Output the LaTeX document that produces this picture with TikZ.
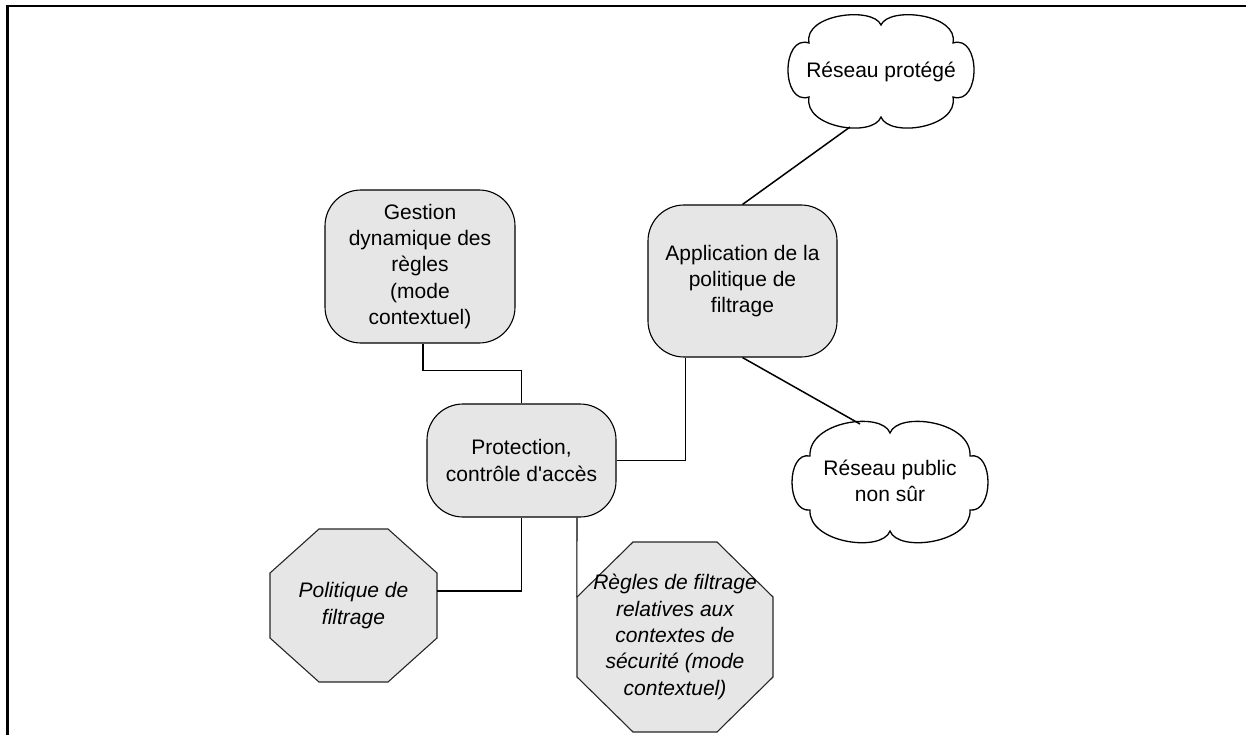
\documentclass[tikz,border=0pt]{standalone}
\usepackage{fontspec}
\setmainfont{Liberation Sans}[Ligatures=TeXOff]
\usetikzlibrary{calc,backgrounds}
\definecolor{boxfill}{RGB}{230,230,230}
\begin{document}
\begin{tikzpicture}[x=1pt,y=-1pt,
  txt/.style={font=\fontsize{21}{26.3}\selectfont, align=center, inner sep=0pt},
  itxt/.style={font=\fontsize{21}{26.3}\selectfont\itshape, align=center, inner sep=0pt},
  rbox/.style={txt, draw=black, line width=1.1pt, fill=boxfill, rounded corners=36pt},
  cloudln/.style={draw=black, line width=1.3pt, fill=white},
  oct/.style={draw=black!85, line width=1.1pt, fill=boxfill},
  conn/.style={draw=black, line width=1.1pt},
  dconn/.style={draw=black, line width=1.5pt}]
\useasboundingbox (0,0) rectangle (1246,735);
% frame
\draw[line width=2.3pt, line join=miter] (7.5,735) -- (7.5,6) -- (1246,6);
% nodes
\node[rbox, minimum width=190pt, minimum height=153pt] (ges) at (420,266.5) {Gestion\\dynamique des\\règles\\(mode\\contextuel)};
\node[rbox, minimum width=189pt, minimum height=152pt] (app) at (742.5,281) {Application de la\\politique de\\filtrage};
\node[rbox, minimum width=189pt, minimum height=113pt] (prot) at (521.5,460.5) {Protection,\\contrôle d'accès};
\node[txt, minimum width=190pt, minimum height=110pt] (net1) at (881,72) {Réseau protégé};
\node[txt, minimum width=190pt, minimum height=112pt] (net2) at (890,481) {Réseau public\\non sûr};
\node[itxt, minimum width=167pt, minimum height=153pt] (pol) at (353.5,605.5) {Politique de\\filtrage};
\node[itxt, minimum width=196pt, minimum height=190pt] (reg) at (675,637) {Règles de filtrage\\relatives aux\\contextes de\\sécurité (mode\\contextuel)};
\begin{scope}[on background layer]
\draw[oct, shift={(pol.center)}] (-83.5,-32.5) -- (-34.5,-76.5) -- (34.5,-76.5) -- (83.5,-32.5) -- (83.5,32.5) -- (34.5,76.5) -- (-34.5,76.5) -- (-83.5,32.5) -- cycle;
\draw[oct, shift={(reg.center)}] (-98,-40) -- (-42,-95) -- (42,-95) -- (98,-40) -- (98,40) -- (42,95) -- (-42,95) -- (-98,40) -- cycle;
\draw[cloudln, shift={(net1.center)}] (-72,-29) .. controls (-78,-58) and (-8,-66) .. (0,-47)
  .. controls (8,-66) and (78,-58) .. (72,-29)
  .. controls (100,-38) and (100,34) .. (72,25)
  .. controls (78,56) and (8,66) .. (0,45)
  .. controls (-8,66) and (-78,56) .. (-72,25)
  .. controls (-100,34) and (-100,-38) .. cycle;
\draw[cloudln, shift={(net2.center)}] (-80,-25) .. controls (-82,-60) and (-8,-70) .. (0,-48)
  .. controls (8,-70) and (82,-60) .. (80,-25)
  .. controls (104,-30) and (104,32) .. (80,29)
  .. controls (82,62) and (8,72) .. (0,50)
  .. controls (-8,72) and (-82,62) .. (-80,29)
  .. controls (-104,32) and (-104,-30) .. cycle;
\end{scope}
% connectors
\coordinate (gesb) at ($(ges.south)+(3,0)$);
\draw[conn] (gesb) -- ++(0,27) -| (prot.north);
\coordinate (appb) at ($(app.south west)+(38,0)$);
\draw[conn] (prot.east) -| (appb);
\coordinate (polr) at ($(pol.east)+(0,-14.5)$);
\draw[conn] (prot.south) |- (polr);
\coordinate (protb) at ($(prot.south)+(55.5,0)$);
\coordinate (regtl) at ($(reg.west)+(0,-40)$);
\draw[conn] (protb) -- (regtl);
\coordinate (n1b) at ($(net1.center)+(-31,55)$);
\coordinate (n2t) at ($(net2.center)+(-30,-57)$);
\draw[dconn] (app.north) -- (n1b);
\draw[dconn] (app.south) -- (n2t);
\end{tikzpicture}
\end{document}
